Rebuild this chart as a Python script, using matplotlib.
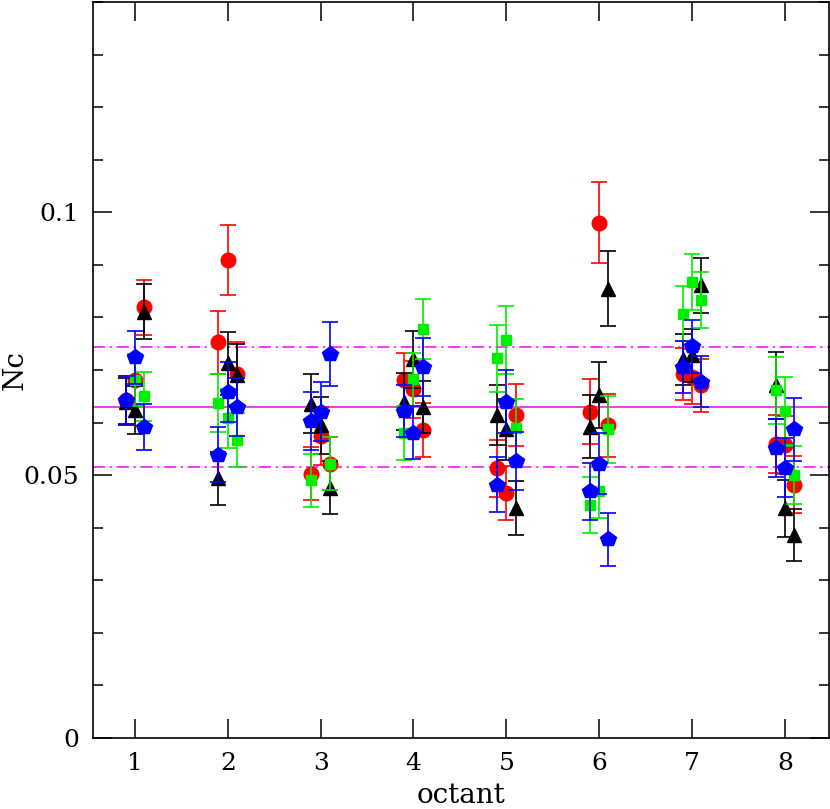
import numpy as np
import matplotlib
matplotlib.use("Agg")
import matplotlib.pyplot as plt
from matplotlib.ticker import MultipleLocator

# mean level and +/- band
nc_mean = 0.0629
nc_band = 0.0114

# red circles
red_oct = [1, 1, 1, 2, 2, 2, 3, 3, 3, 4, 4, 4, 5, 5, 5, 6, 6, 6, 7, 7, 7, 8, 8, 8]
red_off = [-0.1, 0, 0.1] * 8
red_y = [0.0643, 0.0681, 0.0819, 0.0753, 0.0909, 0.0693, 0.0503, 0.0574, 0.0522,
         0.0681, 0.0663, 0.0586, 0.0513, 0.0466, 0.0614, 0.0621, 0.0980, 0.0595,
         0.0692, 0.0687, 0.0671, 0.0559, 0.0557, 0.0482]
red_err = [0.0045, 0.0050, 0.0052, 0.0060, 0.0067, 0.0060, 0.0050, 0.0055, 0.0050,
           0.0052, 0.0055, 0.0051, 0.0054, 0.0052, 0.0059, 0.0062, 0.0077, 0.0060,
           0.0050, 0.0052, 0.0050, 0.0055, 0.0055, 0.0054]

# black triangles
blk_oct = [1, 1, 1, 2, 2, 2, 3, 3, 3, 4, 4, 4, 5, 5, 5, 6, 6, 6, 7, 7, 7, 8, 8, 8]
blk_off = [-0.1, 0, 0.1] * 8
blk_y = [0.0640, 0.0624, 0.0811, 0.0494, 0.0713, 0.0690, 0.0636, 0.0595, 0.0476,
         0.0640, 0.0720, 0.0630, 0.0614, 0.0587, 0.0438, 0.0592, 0.0653, 0.0855,
         0.0720, 0.0728, 0.0861, 0.0671, 0.0437, 0.0386]
blk_err = [0.0045, 0.0046, 0.0052, 0.0050, 0.0060, 0.0060, 0.0056, 0.0054, 0.0050,
           0.0055, 0.0054, 0.0050, 0.0057, 0.0058, 0.0051, 0.0060, 0.0063, 0.0072,
           0.0048, 0.0050, 0.0053, 0.0064, 0.0054, 0.0050]

# green squares
grn_oct = [1, 1, 2, 2, 2, 3, 3, 4, 4, 4, 5, 5, 5, 6, 6, 6, 7, 7, 7, 8, 8, 8]
grn_off = [0, 0.1, -0.1, 0, 0.1, -0.1, 0.1, -0.1, 0, 0.1, -0.1, 0, 0.1,
           -0.1, 0, 0.1, -0.1, 0, 0.1, -0.1, 0, 0.1]
grn_y = [0.0681, 0.0650, 0.0638, 0.0608, 0.0567, 0.0490, 0.0522, 0.0580, 0.0682,
         0.0778, 0.0722, 0.0757, 0.0589, 0.0443, 0.0469, 0.0587, 0.0807, 0.0868,
         0.0833, 0.0661, 0.0622, 0.0500]
grn_err = [0.0050, 0.0047, 0.0055, 0.0056, 0.0052, 0.0050, 0.0050, 0.0051, 0.0050,
           0.0057, 0.0063, 0.0064, 0.0056, 0.0054, 0.0050, 0.0063, 0.0052, 0.0053,
           0.0053, 0.0063, 0.0065, 0.0055]

# blue pentagons
blu_oct = [1, 1, 1, 2, 2, 2, 3, 3, 3, 4, 4, 4, 5, 5, 5, 6, 6, 6, 7, 7, 7, 8, 8, 8]
blu_off = [-0.1, 0, 0.1] * 8
blu_y = [0.0643, 0.0724, 0.0591, 0.0539, 0.0659, 0.0630, 0.0603, 0.0621, 0.0731,
         0.0622, 0.0581, 0.0705, 0.0482, 0.0640, 0.0527, 0.0469, 0.0522, 0.0378,
         0.0706, 0.0745, 0.0678, 0.0551, 0.0514, 0.0587]
blu_err = [0.0045, 0.0050, 0.0044, 0.0053, 0.0057, 0.0055, 0.0055, 0.0056, 0.0061,
           0.0050, 0.0050, 0.0055, 0.0052, 0.0060, 0.0056, 0.0055, 0.0058, 0.0050,
           0.0050, 0.0050, 0.0048, 0.0055, 0.0056, 0.0060]

plt.rcParams["font.family"] = ["DejaVu Serif"]

fig = plt.figure(figsize=(8.3, 8.09), dpi=100)
ax = fig.add_axes([0.112, 0.0878, 0.8867, 0.9097])

ax.axhline(nc_mean, color="#ff00ff", lw=1.1, zorder=1)
ax.axhline(nc_mean + nc_band, color="#ff00ff", lw=1.1, ls=(0, (8, 3, 1.5, 3)), zorder=1)
ax.axhline(nc_mean - nc_band, color="#ff00ff", lw=1.1, ls=(0, (8, 3, 1.5, 3)), zorder=1)

series = [
    (red_oct, red_off, red_y, red_err, "#ff0000", "o", 10.5),
    (blk_oct, blk_off, blk_y, blk_err, "#000000", "^", 10),
    (grn_oct, grn_off, grn_y, grn_err, "#00ee00", "s", 7),
    (blu_oct, blu_off, blu_y, blu_err, "#0000ff", "p", 11.5),
]
for i, (octs, offs, y, err, c, m, ms) in enumerate(series):
    x = np.array(octs) + np.array(offs)
    ax.errorbar(x, y, yerr=err, fmt=m, color=c, ms=ms, mec=c, mfc=c,
                elinewidth=1.2, capsize=6, capthick=1.2, zorder=2 + i)

ax.set_xlim(0.548, 8.474)
ax.set_ylim(0, 0.14)
ax.xaxis.set_major_locator(MultipleLocator(1))
ax.yaxis.set_major_locator(MultipleLocator(0.05))
ax.yaxis.set_minor_locator(MultipleLocator(0.01))
ax.yaxis.set_major_formatter(plt.FuncFormatter(lambda v, p: "0" if v == 0 else f"{v:g}"))
ax.tick_params(which="major", direction="in", length=14, width=1.1,
               top=True, right=True, labelsize=18, pad=10)
ax.tick_params(which="minor", direction="in", length=7, width=1.1,
               top=False, right=True)
for s in ax.spines.values():
    s.set_linewidth(1.2)

# axis labels placed by hand so they hug the figure edges like the original
ax.text(0.5, -0.097, "octant", transform=ax.transAxes,
        ha="center", va="bottom", fontsize=20)
ax.text(-0.124, 0.5, "Nc", transform=ax.transAxes, rotation=90,
        ha="left", va="center", fontsize=20)

fig.savefig("out.png", dpi=100)
